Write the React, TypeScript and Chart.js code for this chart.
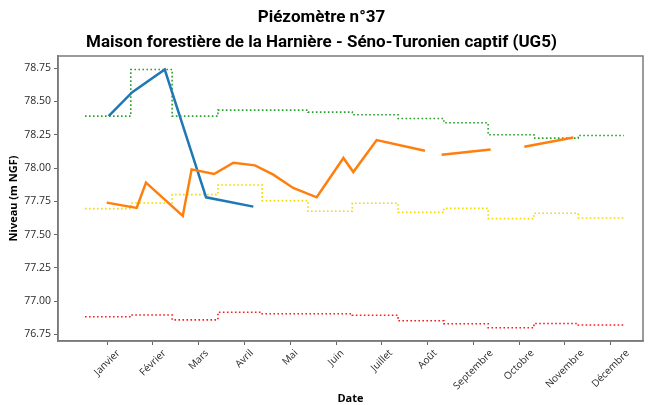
import React, { useEffect, useRef } from 'react';
import { Chart, registerables } from 'chart.js';

Chart.register(...registerables);

const titleLines = ['Piézomètre n°37', 'Maison forestière de la Harnière - Séno-Turonien captif (UG5)'];
const monthLabels = ['Janvier', 'Février', 'Mars', 'Avril', 'Mai', 'Juin', 'Juillet', 'Août', 'Septembre', 'Octobre', 'Novembre', 'Décembre'];
const monthTickDays = [15, 46, 77, 108, 139, 170, 201, 232, 263, 294, 325, 356];
const monthStartDays = [0, 31, 59, 90, 120, 151, 181, 212, 243, 273, 304, 334, 365];
const yTicks = [76.75, 77.0, 77.25, 77.5, 77.75, 78.0, 78.25, 78.5, 78.75];

// current year (blue)
const blueDays = [16, 32, 54, 82, 114];
const blueLevels = [78.39, 78.57, 78.74, 77.78, 77.71];

// previous year (orange), null = gap
const orangeDays = [14.7, 35, 41.3, 66.2, 72.2, 87.4, 100.5, 115.1, 127.5, 141, 156.9, 175, 181.7, 197.5, 230.2, 236, 241.5, 274.7, 286, 297.5, 330.7];
const orangeLevels: (number | null)[] = [77.74, 77.7, 77.89, 77.64, 77.99, 77.955, 78.04, 78.02, 77.95, 77.85, 77.78, 78.075, 77.97, 78.21, 78.13, null, 78.1, 78.14, null, 78.16, 78.23];

// monthly statistics (dotted steps)
const greenMonthly = [78.39, 78.74, 78.39, 78.435, 78.435, 78.42, 78.4, 78.372, 78.34, 78.25, 78.225, 78.245];
const yellowMonthly = [77.695, 77.737, 77.8, 77.873, 77.755, 77.675, 77.735, 77.667, 77.697, 77.62, 77.66, 77.625];
const redMonthly = [76.882, 76.895, 76.859, 76.916, 76.905, 76.905, 76.893, 76.852, 76.83, 76.8, 76.832, 76.82];

const stepData = (vals: number[]) => monthStartDays.map((d, i) => ({ x: d, y: vals[Math.min(i, vals.length - 1)] }));

const frameColor = '#7a7a7a';

const framePlugin = {
  id: 'frame',
  beforeDatasetsDraw(chart: any) {
    const { ctx, chartArea: a } = chart;
    ctx.save();
    ctx.strokeStyle = frameColor;
    ctx.lineWidth = 1.5;
    ctx.strokeRect(a.left, a.top, a.right - a.left, a.bottom - a.top);
    ctx.restore();
  },
};

const xLabelPlugin = {
  id: 'xLabels',
  afterDraw(chart: any) {
    const { ctx } = chart;
    const x = chart.scales.x;
    const size = 10;
    ctx.save();
    ctx.font = `${size}px "Open Sans"`;
    ctx.fillStyle = '#2a2a2a';
    ctx.textAlign = 'center';
    ctx.textBaseline = 'middle';
    const top = chart.chartArea.bottom + 7;
    monthTickDays.forEach((d, i) => {
      const label = monthLabels[i];
      const w = ctx.measureText(label).width;
      const bb = (w + size) * Math.SQRT1_2;
      const cx = x.getPixelForValue(d);
      const cy = top + bb / 2;
      ctx.save();
      ctx.translate(cx, cy);
      ctx.rotate(-Math.PI / 4);
      ctx.fillText(label, 0, 0);
      ctx.restore();
    });
    ctx.restore();
  },
};

export default function App() {
  const ref = useRef<HTMLCanvasElement | null>(null);
  useEffect(() => {
    if (!ref.current) return;
    const dotted = (color: string) => ({
      borderColor: color,
      backgroundColor: color,
      borderWidth: 1.6,
      borderDash: [1.6, 2.4],
      pointRadius: 0,
      stepped: 'before' as const,
      fill: false,
    });
    const chart = new Chart(ref.current, {
      type: 'line',
      data: {
        datasets: [
          {
            data: orangeDays.map((d, i) => ({ x: d, y: orangeLevels[i] })),
            borderColor: '#ff7f0e',
            backgroundColor: '#ff7f0e',
            borderWidth: 2.5,
            pointRadius: 0,
            spanGaps: false,
          },
          {
            data: blueDays.map((d, i) => ({ x: d, y: blueLevels[i] })),
            borderColor: '#1f77b4',
            backgroundColor: '#1f77b4',
            borderWidth: 2.5,
            pointRadius: 0,
          },
          { data: stepData(greenMonthly), ...dotted('#2ca02c') },
          { data: stepData(yellowMonthly), ...dotted('#f2d900') },
          { data: stepData(redMonthly), ...dotted('#ff1a1a') },
        ] as any,
      },
      options: {
        animation: false,
        responsive: false,
        maintainAspectRatio: false,
        layout: { padding: { left: 0, right: 7, top: 0, bottom: 0 } },
        plugins: {
          legend: { display: false },
          tooltip: { enabled: false },
          title: {
            display: true,
            text: titleLines,
            color: '#000',
            font: { family: 'Roboto', size: 17, weight: 'bold', lineHeight: 1.5 },
            padding: { top: 4.5, bottom: 0.5 },
          },
        },
        scales: {
          x: {
            type: 'linear',
            min: -18.28,
            max: 377.86,
            afterBuildTicks: (s: any) => {
              s.ticks = monthTickDays.map((v) => ({ value: v }));
            },
            afterFit: (s: any) => {
              s.height = 64;
            },
            ticks: { display: false },
            grid: { display: true, drawOnChartArea: false, drawTicks: true, tickLength: 4, color: '#666', lineWidth: 1 },
            border: { display: true, color: frameColor, width: 1.5 },
            title: {
              display: true,
              text: 'Date',
              color: '#000',
              font: { family: 'Open Sans', size: 11, weight: 'bold', lineHeight: 1.2 },
              padding: { top: 0, bottom: 0 },
            },
          },
          y: {
            type: 'linear',
            min: 76.7,
            max: 78.842,
            afterBuildTicks: (s: any) => {
              s.ticks = yTicks.map((v) => ({ value: v }));
            },
            afterFit: (s: any) => {
              s.width = 58;
            },
            ticks: {
              color: '#2a2a2a',
              font: { family: 'Open Sans', size: 10.5 },
              padding: 3,
              callback: (v: any) => Number(v).toFixed(2),
            },
            grid: { display: true, drawOnChartArea: false, drawTicks: true, tickLength: 4, color: '#666', lineWidth: 1 },
            border: { display: true, color: frameColor, width: 1.5 },
            title: {
              display: true,
              text: 'Niveau (m NGF)',
              color: '#000',
              font: { family: 'Open Sans', size: 11, weight: 'bold', lineHeight: 1.2 },
              padding: { top: 7, bottom: 0 },
            },
          },
        },
      } as any,
      plugins: [framePlugin, xLabelPlugin],
    });
    return () => chart.destroy();
  }, []);
  return (
    <div style={{ position: 'absolute', left: 0, top: 0, width: 650, height: 405, background: '#fff' }}>
      <canvas ref={ref} width={650} height={405} style={{ display: 'block', width: 650, height: 405 }} />
    </div>
  );
}
